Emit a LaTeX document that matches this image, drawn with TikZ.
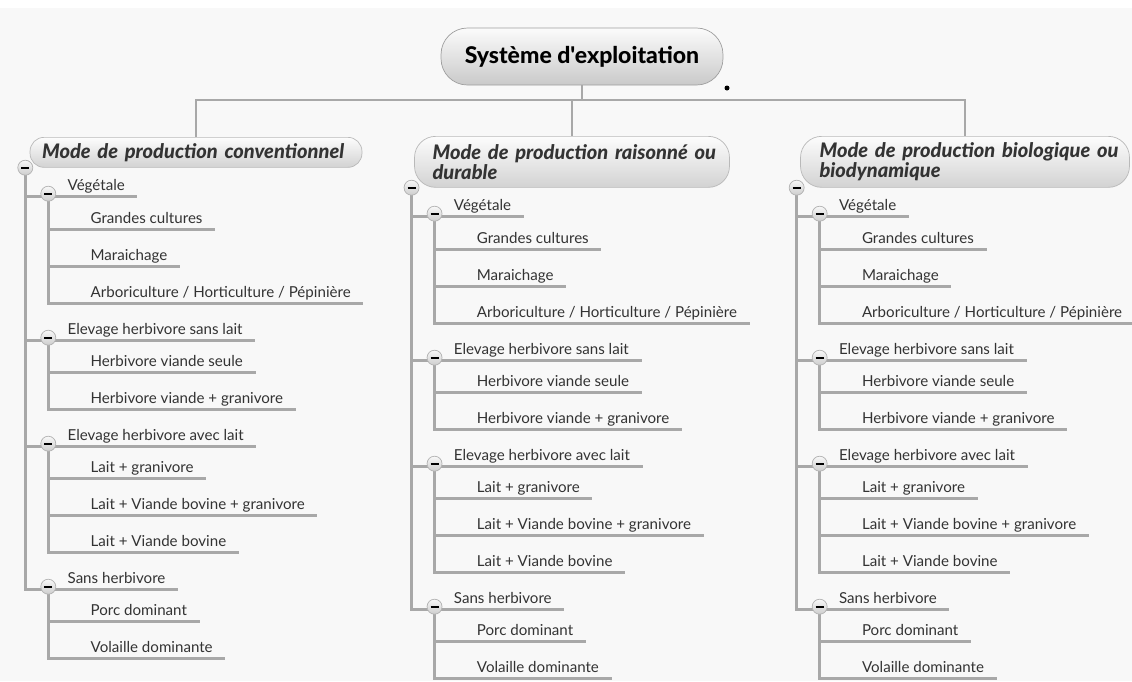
\documentclass[tikz,border=0pt]{standalone}
\usepackage{fontspec}
\setmainfont{Lato}
\newfontfamily\lourd{Lato}[UprightFont={* Heavy}, ItalicFont={* Heavy Italic}, BoldFont={* Heavy}, BoldItalicFont={* Heavy Italic}]
\usetikzlibrary{positioning}
\definecolor{gristrait}{HTML}{A8A8A8}
\definecolor{gristexte}{HTML}{333333}
\definecolor{fond}{HTML}{F8F8F8}
\tikzstyle{trait} = [draw=gristrait, line width=1.4pt]
\tikzstyle{racine} = [draw=gray!75, top color=gray!3, bottom color=gray!42, rounded corners=15pt, minimum width=5.64cm, minimum height=1.14cm, font=\fontsize{13.1}{15}\lourd, text=black]
\tikzstyle{entete} = [draw=gray!55, top color=gray!2, bottom color=gray!35, rounded corners=12pt, align=left, inner ysep=0pt, font=\fontsize{11.4}{11.4}\lourd\itshape, text=gristexte]
\tikzstyle{rubrique} = [anchor=south west, inner sep=0pt, text depth=3.6pt, font=\fontsize{8.6}{10}\selectfont, text=gristexte]
\tikzstyle{feuille} = [rubrique]
\tikzstyle{moins} = [circle, draw=gray!60, top color=gray!5, bottom color=gray!40, minimum size=0.3cm, inner sep=0pt, path picture={\draw[black, line width=1.2pt] ([xshift=-2.3pt]path picture bounding box.center) -- ([xshift=2.3pt]path picture bounding box.center);}]

% une colonne de l'arbre, #1 = prefixe des noms
\newcommand{\colonne}[1]{%
  \coordinate (#1mveg) at (23,26);
  \coordinate (#1mesl) at (23,170);
  \coordinate (#1meal) at (23,276);
  \coordinate (#1msh) at (23,419);
  % niveau 1
  \node[rubrique] (#1veg) at (42,29) {Végétale};
  \node[rubrique] (#1esl) at (42,173) {Elevage herbivore sans lait};
  \node[rubrique] (#1eal) at (42,279) {Elevage herbivore avec lait};
  \node[rubrique] (#1sh) at (42,422) {Sans herbivore};
  % niveau 2
  \node[feuille] (#1gc) at (65,62) {Grandes cultures};
  \node[feuille] (#1mar) at (65,99) {Maraichage};
  \node[feuille] (#1arb) at (65,136) {Arboriculture / Horticulture / Pépinière};
  \node[feuille] (#1hvs) at (65,205) {Herbivore viande seule};
  \node[feuille] (#1hvg) at (65,242) {Herbivore viande + granivore};
  \node[feuille] (#1lg) at (65,311) {Lait + granivore};
  \node[feuille] (#1lvg) at (65,348) {Lait + Viande bovine + granivore};
  \node[feuille] (#1lv) at (65,385) {Lait + Viande bovine};
  \node[feuille] (#1pd) at (65,454) {Porc dominant};
  \node[feuille] (#1vd) at (65,491) {Volaille dominante};
  % traits
  \draw[trait] (#1m) |- ([xshift=7pt]#1sh.south east);
  \foreach \n in {veg,esl,eal}
    \draw[trait] (#1m |- #1\n.south) -- ([xshift=7pt]#1\n.south east);
  \draw[trait] (#1mveg) |- ([xshift=7pt]#1arb.south east);
  \foreach \n in {gc,mar}
    \draw[trait] (#1mveg |- #1\n.south) -- ([xshift=7pt]#1\n.south east);
  \draw[trait] (#1mesl) |- ([xshift=7pt]#1hvg.south east);
  \draw[trait] (#1mesl |- #1hvs.south) -- ([xshift=7pt]#1hvs.south east);
  \draw[trait] (#1meal) |- ([xshift=7pt]#1lv.south east);
  \foreach \n in {lg,lvg}
    \draw[trait] (#1meal |- #1\n.south) -- ([xshift=7pt]#1\n.south east);
  \draw[trait] (#1msh) |- ([xshift=7pt]#1vd.south east);
  \draw[trait] (#1msh |- #1pd.south) -- ([xshift=7pt]#1pd.south east);
  % boutons
  \foreach \n in {veg,esl,eal,sh}
    \node[moins] (#1b\n) at (#1m\n) {};
}

\begin{document}
\begin{tikzpicture}[x=0.02cm, y=-0.02cm]
	\useasboundingbox (0,0) rectangle (1132,681);
	\fill[fond] (0,8) rectangle (1132,681);
	% racine
	\node[racine] (racine) at (582,56.5) {Système d'exploitation};
	\node[circle, fill=black, inner sep=0pt, minimum size=0.1cm] (point) at (727,88) {};
	% modes de production
	\node[entete, rounded corners=8pt, inner xsep=0.24cm, text width=6.16cm, minimum height=0.6cm, anchor=north] (h1) at (196,137) {\mbox{Mode de production conventionnel}};
	\node[entete, inner xsep=0.36cm, text width=5.58cm, minimum height=1.02cm, anchor=north] (h2) at (572,136) {\mbox{Mode de production raisonné ou}\\durable};
	\node[entete, inner xsep=0.38cm, text width=5.82cm, minimum height=1.02cm, anchor=north] (h3) at (965,136) {\mbox{Mode de production biologique ou}\\biodynamique};
	\coordinate (jonction) at (582,100);
	\draw[trait] (racine.south) -- (jonction);
	\draw[trait] (h1.north) |- (jonction) -| (h3.north);
	\draw[trait] (jonction -| h2.north) -- (h2.north);
	\coordinate (c1m) at ([xshift=-2.5pt]h1.south west);
	\coordinate (c2m) at ([xshift=-1.5pt]h2.south west);
	\coordinate (c3m) at ([xshift=-2pt]h3.south west);
	\begin{scope}[shift={(c1m)}]
		\colonne{c1}
	\end{scope}
	\begin{scope}[shift={(c2m)}]
		\colonne{c2}
	\end{scope}
	\begin{scope}[shift={(c3m)}]
		\colonne{c3}
	\end{scope}
	\node[moins] (c1b) at (c1m) {};
	\node[moins] (c2b) at (c2m) {};
	\node[moins] (c3b) at (c3m) {};
\end{tikzpicture}
\end{document}
